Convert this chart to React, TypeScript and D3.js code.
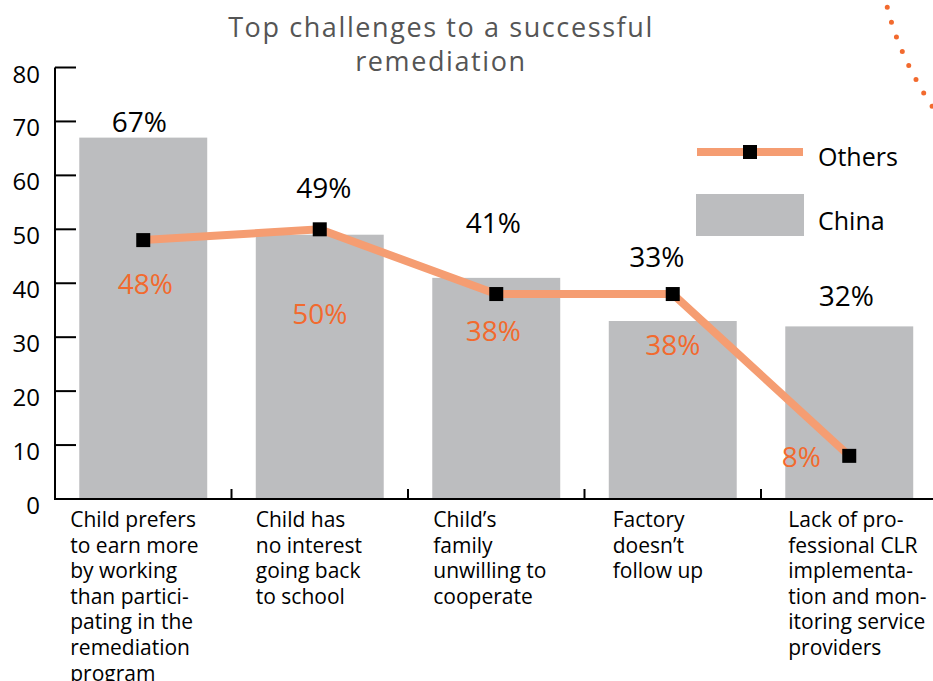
import React from "react";
import * as d3 from "d3";

const categories = [
  "Child prefers to earn more by working than participating in the remediation program",
  "Child has no interest going back to school",
  "Child’s family unwilling to cooperate",
  "Factory doesn’t follow up",
  "Lack of professional CLR implementation and monitoring service providers",
];
const categoryLines = [
  ["Child prefers", "to earn more", "by working", "than partici-", "pating in the", "remediation", "program"],
  ["Child has", "no interest", "going back", "to school"],
  ["Child’s", "family", "unwilling to", "cooperate"],
  ["Factory", "doesn’t", "follow up"],
  ["Lack of pro-", "fessional CLR", "implementa-", "tion and mon-", "itoring service", "providers"],
];
const chinaValues = [67, 49, 41, 33, 32];
const othersValues = [48, 50, 38, 38, 8];
const yTicks = [0, 10, 20, 30, 40, 50, 60, 70, 80];
const seriesNames = ["Others", "China"];
const titleLines = ["Top challenges to a successful", "remediation"];

const W = 933;
const H = 681;
const FONT = "'Open Sans', sans-serif";
const BAR = "#bcbdbf";
const LINE = "#f59d72";
const ORANGE = "#f26a2e";

// label placement (layout only)
const chinaLabelOffset = [[-4, -6], [4, -37], [-3, -45], [-16, -54], [-3, -20]];
const othersLabelOffset = [[2, 54], [0, 95], [-3, 47], [0, 61], [-48, 11]];
const catLabelDx = [-9, 0, 1, 4, 3];

export default function App() {
  const x = d3
    .scaleBand<string>()
    .domain(categories)
    .range([55, 937.5])
    .paddingInner(0.275)
    .paddingOuter(0.1375);
  const y = d3.scaleLinear().domain([0, 80]).range([499, 67.5]);
  const cx = (i: number) => (x(categories[i]) as number) + x.bandwidth() / 2;

  const linePath = d3
    .line<number>()
    .x((_, i) => cx(i))
    .y((d) => y(d))(othersValues) as string;

  const step = x.step();
  const dividerXs = categories.slice(1).map((c) => (x(c) as number) - (step - x.bandwidth()) / 2);

  return (
    <svg
      width={W}
      height={H}
      style={{ position: "absolute", left: 0, top: 0, background: "#fff" }}
      fontFamily={FONT}
    >
      {/* decorative dotted arc */}
      <path
        d="M884,-8 Q895,52 936,112"
        fill="none"
        stroke={ORANGE}
        strokeWidth={5}
        strokeLinecap="round"
        strokeDasharray="0 15.6"
      />

      {/* title */}
      {titleLines.map((t, i) => (
        <text
          key={t}
          x={441}
          y={37 + i * 34}
          textAnchor="middle"
          fontSize={27}
          letterSpacing={1.6}
          fill="#555"
        >
          {t}
        </text>
      ))}

      {/* bars */}
      {chinaValues.map((v, i) => (
        <rect
          key={categories[i]}
          x={x(categories[i])}
          y={y(v)}
          width={x.bandwidth()}
          height={y(0) - y(v)}
          fill={BAR}
        />
      ))}

      {/* axes */}
      <line x1={55} x2={55} y1={y(80)} y2={y(0)} stroke="#000" strokeWidth={2} />
      <line x1={54} x2={W} y1={y(0)} y2={y(0)} stroke="#000" strokeWidth={2} />
      {yTicks.map((t) => (
        <g key={t}>
          {t > 0 && <line x1={55} x2={76} y1={y(t)} y2={y(t)} stroke="#000" strokeWidth={2} />}
          <text x={40} y={y(t) + 15} textAnchor="end" fontSize={24} fill="#000">
            {t}
          </text>
        </g>
      ))}
      {dividerXs.map((dx, i) => (
        <line key={i} x1={dx} x2={dx} y1={y(0) - 10} y2={y(0)} stroke="#000" strokeWidth={2} />
      ))}

      {/* category labels */}
      {categoryLines.map((lines, i) => (
        <text key={categories[i]} fontSize={21} fill="#000">
          {lines.map((l, j) => (
            <tspan key={j} x={(x(categories[i]) as number) + catLabelDx[i]} y={527 + j * 25.6}>
              {l}
            </tspan>
          ))}
        </text>
      ))}

      {/* others line */}
      <path d={linePath} fill="none" stroke={LINE} strokeWidth={8} />
      {othersValues.map((v, i) => (
        <rect key={i} x={cx(i) - 7} y={y(v) - 7} width={14} height={14} fill="#000" />
      ))}

      {/* value labels */}
      {chinaValues.map((v, i) => (
        <text
          key={"c" + i}
          x={cx(i) + chinaLabelOffset[i][0]}
          y={y(v) + chinaLabelOffset[i][1]}
          textAnchor="middle"
          fontSize={28}
          fill="#000"
        >
          {v}%
        </text>
      ))}
      {othersValues.map((v, i) => (
        <text
          key={"o" + i}
          x={cx(i) + othersLabelOffset[i][0]}
          y={y(v) + othersLabelOffset[i][1]}
          textAnchor="middle"
          fontSize={28}
          fill={ORANGE}
        >
          {v}%
        </text>
      ))}

      {/* legend */}
      <line x1={697} x2={803} y1={152} y2={152} stroke={LINE} strokeWidth={8} />
      <rect x={743} y={145} width={14} height={14} fill="#000" />
      <text x={818} y={166} fontSize={25} fill="#000">
        {seriesNames[0]}
      </text>
      <rect x={696} y={194} width={108} height={42} fill={BAR} />
      <text x={818} y={230} fontSize={25} fill="#000">
        {seriesNames[1]}
      </text>
    </svg>
  );
}
